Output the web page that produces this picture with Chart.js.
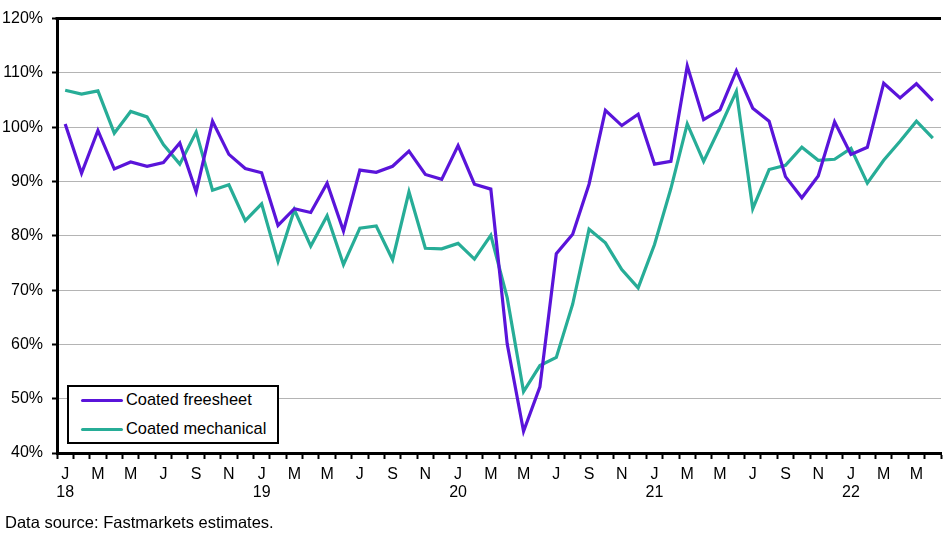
<!DOCTYPE html>
<html>
<head>
<meta charset="utf-8">
<script src="https://cdn.jsdelivr.net/npm/chart.js@4.4.1/dist/chart.umd.min.js"></script>
<style>
  html, body { margin: 0; padding: 0; background: #fff; }
  body { width: 947px; height: 536px; position: relative; overflow: hidden; font-family: "Liberation Sans", Arial, sans-serif; }
  #wrap { position: absolute; left: 0; top: 0; width: 947px; height: 536px; }
  #legend { position: absolute; left: 67px; top: 385px; width: 208px; height: 55px; border: 2px solid #000; background: #fff; font-size: 16.4px; color: #000; }
  #legend div { position: absolute; left: 57px; white-space: nowrap; }
  #legend span { position: absolute; left: -45px; top: 9px; width: 42px; height: 3px; border-radius: 2px; }
  #note { position: absolute; left: 5px; top: 513px; font-size: 16.5px; color: #000; white-space: nowrap; }
</style>
</head>
<body>
<div id="wrap"><canvas id="chart" width="947" height="536"></canvas></div>
<div id="legend"></div>
<div id="note">Data source: Fastmarkets estimates.</div>
<script>
// monthly index, Jan 2018 - Jun 2022
var years = ['18', '19', '20', '21', '22'];
var monthLetters = ['J', 'F', 'M', 'A', 'M', 'J', 'J', 'A', 'S', 'O', 'N', 'D'];
var seriesNames = ['Coated freesheet', 'Coated mechanical'];
var seriesColors = ['#5a14da', '#27ad97'];

var freesheet = [
	100.6, 91.5, 99.4, 92.3, 93.6, 92.8, 93.5, 97.1, 88.1, 101.1, 95.0, 92.4,
	91.6, 81.9, 85.0, 84.3, 89.7, 80.9, 92.1, 91.7, 92.8, 95.6, 91.3, 90.4,
	96.6, 89.5, 88.6, 60.1, 44.0, 52.2, 76.7, 80.3, 89.5, 103.1, 100.3, 102.4,
	93.2, 93.7, 111.3, 101.4, 103.2, 110.4, 103.5, 101.1, 90.9, 87.0, 91.0, 101.0,
	95.0, 96.3, 108.1, 105.4, 108.0, 104.9
];
var mechanical = [
	106.8, 106.1, 106.7, 98.9, 102.9, 101.9, 96.8, 93.2, 99.1, 88.4, 89.4, 82.8,
	85.9, 75.3, 84.8, 78.1, 83.7, 74.7, 81.4, 81.8, 75.6, 88.1, 77.7, 77.6,
	78.6, 75.7, 80.1, 68.6, 51.3, 56.1, 57.6, 67.4, 81.2, 78.7, 73.8, 70.4,
	78.4, 88.7, 100.6, 93.7, 100.0, 106.6, 85.0, 92.2, 93.0, 96.3, 93.9, 94.1,
	96.1, 89.7, 93.9, 97.4, 101.1, 98.0
];

var labels = [];
for (var i = 0; i < freesheet.length; i++) {
	labels.push(monthLetters[i % 12] + ' ' + years[Math.floor(i / 12)]);
}

// legend box
var legendEl = document.getElementById('legend');
seriesNames.forEach(function(name, i) {
	var row = document.createElement('div');
	row.style.top = (i === 0 ? 3 : 32) + 'px';
	row.innerHTML = '<span style="background:' + seriesColors[i] + '"></span>' + name;
	legendEl.appendChild(row);
});

// black frame line along the top of the plot
var topLine = {
	id: 'topLine',
	afterDraw: function(chart) {
		var a = chart.chartArea, c = chart.ctx;
		c.save();
		c.strokeStyle = '#000';
		c.lineWidth = 3;
		c.beginPath();
		c.moveTo(a.left - 1.5, a.top);
		c.lineTo(a.right, a.top);
		c.stroke();
		c.restore();
	}
};

var tickFont = { family: '"Liberation Sans", Arial, sans-serif', size: 16 };

const ctx = document.getElementById('chart').getContext('2d');
var lineChart = new Chart(ctx, {
	type: 'line',
	data: {
		labels: labels,
		datasets: [
			{ label: seriesNames[0], data: freesheet, borderColor: seriesColors[0], backgroundColor: seriesColors[0] },
			{ label: seriesNames[1], data: mechanical, borderColor: seriesColors[1], backgroundColor: seriesColors[1] }
		]
	},
	options: {
		responsive: false,
		animation: false,
		layout: { padding: { top: 16, right: 6, left: 0, bottom: 0 } },
		elements: {
			line: { borderWidth: 3.2, tension: 0, borderJoinStyle: 'miter' },
			point: { radius: 0, hoverRadius: 0 }
		},
		plugins: {
			legend: { display: false },
			tooltip: { enabled: false }
		},
		scales: {
			x: {
				type: 'category',
				offset: true,
				afterFit: function(s) { s.height = 83; },
				border: { display: true, color: '#000', width: 3 },
				grid: { offset: true, drawOnChartArea: false, drawTicks: true, tickLength: 6, tickWidth: 2, color: '#000' },
				ticks: {
					autoSkip: false,
					maxRotation: 0,
					padding: 7,
					color: '#000',
					font: { family: tickFont.family, size: 16, lineHeight: 1.1 },
					callback: function(value, index) {
						if (index % 2 !== 0) return '';
						var letter = monthLetters[index % 12];
						if (index % 12 === 0) return [letter, years[index / 12]];
						return letter;
					}
				}
			},
			y: {
				min: 40,
				max: 120,
				afterFit: function(s) { s.width = 57; },
				border: { display: true, color: '#000', width: 3 },
				grid: { color: '#b4b4b4', lineWidth: 1, tickLength: 5, tickColor: '#000', tickWidth: 2 },
				ticks: {
					stepSize: 10,
					padding: 9,
					color: '#000',
					font: tickFont,
					callback: function(v) { return v + '%'; }
				}
			}
		}
	},
	plugins: [topLine]
});
</script>
</body>
</html>
